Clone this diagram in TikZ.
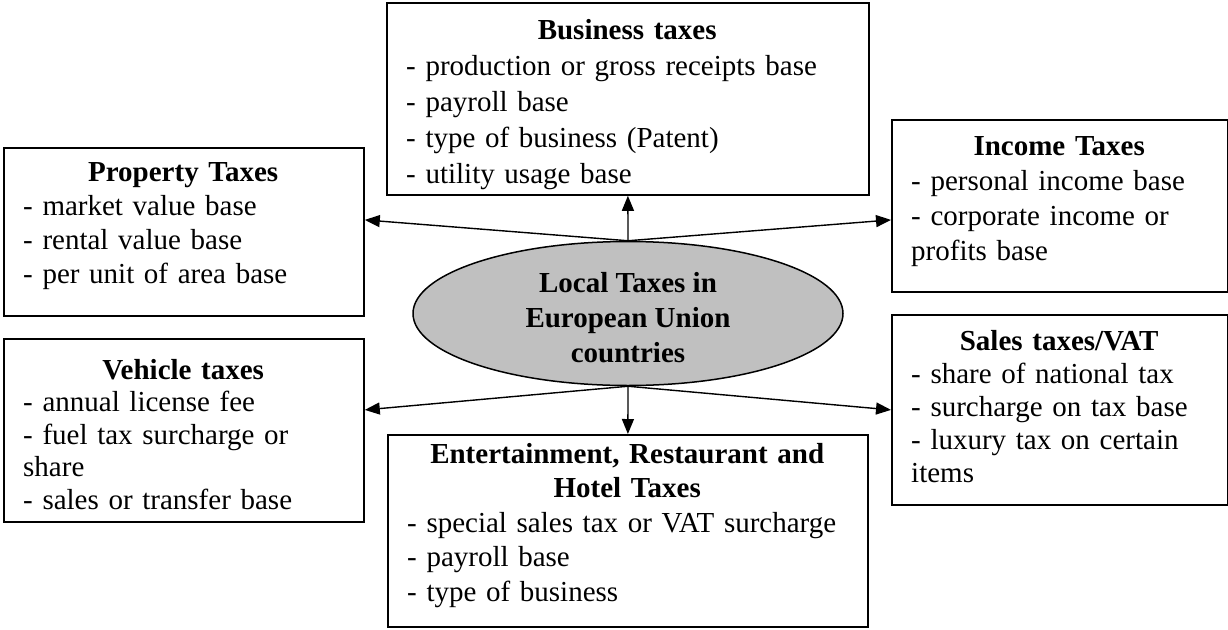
\documentclass[tikz,border=0pt]{standalone}
\usepackage{fontspec}
\setmainfont{Liberation Serif}
\usetikzlibrary{arrows.meta,shapes.geometric}
\definecolor{hubfill}{RGB}{192,192,192}
\newcommand{\boxtitle}[1]{\makebox[\linewidth][c]{\bfseries #1}}

\begin{document}
\begin{tikzpicture}[x=1pt,y=-1pt,
  taxbox/.style={draw, line width=1.8pt, rectangle, anchor=north west, inner sep=0pt},
  boxtext/.style={anchor=base west, inner sep=0pt, align=left, font=\fontsize{29}{#1}\selectfont},
  hub/.style={ellipse, draw, line width=1.5pt, fill=hubfill, minimum width=430pt, minimum height=144pt,
              inner sep=0pt, align=center, font=\fontsize{29}{35}\selectfont\bfseries},
  link/.style={line width=1.4pt, -{Triangle[length=15pt,width=12pt]}}
]
\useasboundingbox (0,0) rectangle (1228,629);

% category boxes
\node[taxbox, minimum width=482pt, minimum height=192pt] (bus) at (386,2) {};
\node[boxtext=36, text width=442pt] (busT) at (406,39)
  {\boxtitle{Business taxes}\\- production or gross receipts base\\- payroll base\\- type of business (Patent)\\- utility usage base};

\node[taxbox, minimum width=360pt, minimum height=168pt] (prop) at (3,147) {};
\node[boxtext=34, text width=320pt] (propT) at (23,181)
  {\boxtitle{Property Taxes}\\- market value base\\- rental value base\\- per unit of area base};

\node[taxbox, minimum width=336pt, minimum height=172pt] (inc) at (891,119) {};
\node[boxtext=35, text width=296pt] (incT) at (911,155)
  {\boxtitle{Income Taxes}\\- personal income base\\- corporate income or\\profits base};

\node[taxbox, minimum width=360pt, minimum height=183pt] (veh) at (3,338) {};
\node[boxtext=32.5, text width=320pt] (vehT) at (23,379)
  {\boxtitle{Vehicle taxes}\\- annual license fee\\- fuel tax surcharge or\\share\\- sales or transfer base};

\node[taxbox, minimum width=336pt, minimum height=190pt] (sal) at (891,314) {};
\node[boxtext=33, text width=296pt] (salT) at (911,350)
  {\boxtitle{Sales taxes/VAT}\\- share of national tax\\- surcharge on tax base\\- luxury tax on certain\\items};

\node[taxbox, minimum width=480pt, minimum height=192pt] (ent) at (387,434) {};
\node[boxtext=34.5, text width=440pt] (entT) at (407,463)
  {\boxtitle{Entertainment, Restaurant and}\\\boxtitle{Hotel Taxes}\\- special sales tax or VAT surcharge\\- payroll base\\- type of business};

% central ellipse (strut on the first line lowers the text block slightly)
\node[hub] (hub) at (628,313.5) {\rule{0pt}{28pt}Local Taxes in\\European Union\\countries};

% connectors
\draw[link] (hub.north) -- ([yshift=12pt]prop.east);
\draw[link] (hub.north) -- (bus.south);
\draw[link] (hub.north) -- ([yshift=-14pt]inc.west);
\draw[link] (hub.south) -- ([yshift=20.5pt]veh.east);
\draw[link] (hub.south) -- (ent.north);
\draw[link] (hub.south) -- (sal.west);
\end{tikzpicture}
\end{document}
